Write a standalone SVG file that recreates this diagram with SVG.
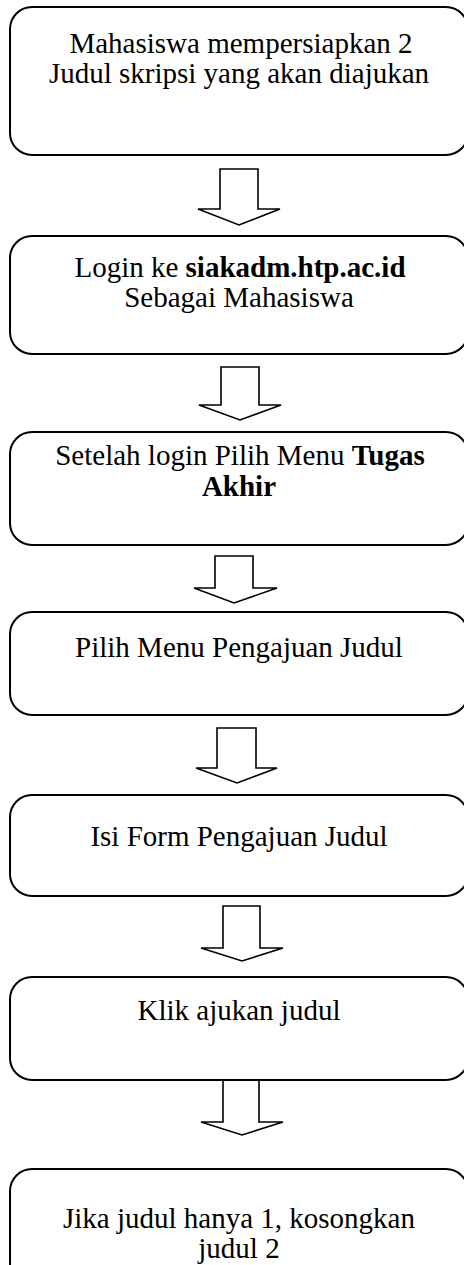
<svg xmlns="http://www.w3.org/2000/svg" width="464" height="1265" viewBox="0 0 464 1265">
<style>
.box{fill:#fff;stroke:#000;stroke-width:2}
.arr{fill:#fff;stroke:#000;stroke-width:1.6;stroke-linejoin:miter}
text{font-family:"Liberation Serif","Times New Roman",serif;font-size:29px;fill:#000;text-anchor:middle}
.b{font-weight:bold}
</style>
<rect width="464" height="1265" fill="#fff"/>
<g id="connectors">
<polygon class="arr" points="220,169 258,169 258,209 280,209 239,225 198,209 220,209"/>
<polygon class="arr" points="221,367 259,367 259,405 281,405 240,420 199,405 221,405"/>
<polygon class="arr" points="215,556 253,556 253,588 277,588 234,603 194,588 215,588"/>
<polygon class="arr" points="217,728 256,728 256,768 277,768 237,783 196,768 217,768"/>
<polygon class="arr" points="223,906 260,906 260,948 283,948 242,961 201,948 223,948"/>
<polygon class="arr" points="223,1080 259,1080 259,1122 283,1122 242,1135 201,1122 223,1122"/>
</g>
<g id="node1">
<rect class="box" x="10" y="7" width="458" height="148" rx="22"/>
<text x="241" y="53">Mahasiswa mempersiapkan 2</text>
<text x="239" y="83">Judul skripsi yang akan diajukan</text>
</g>
<g id="node2">
<rect class="box" x="10" y="236" width="458" height="118" rx="22"/>
<text x="240" y="277">Login ke <tspan class="b">siakadm.htp.ac.id</tspan></text>
<text x="239" y="307">Sebagai Mahasiswa</text>
</g>
<g id="node3">
<rect class="box" x="10" y="432" width="458" height="113" rx="22"/>
<text x="240" y="465">Setelah login Pilih Menu <tspan class="b">Tugas</tspan></text>
<text x="239" y="496" class="b">Akhir</text>
</g>
<g id="node4">
<rect class="box" x="10" y="612" width="458" height="103" rx="22"/>
<text x="239" y="657">Pilih Menu Pengajuan Judul</text>
</g>
<g id="node5">
<rect class="box" x="10" y="795" width="458" height="101" rx="22"/>
<text x="239" y="846">Isi Form Pengajuan Judul</text>
</g>
<g id="node6">
<rect class="box" x="10" y="977" width="458" height="103" rx="22"/>
<text x="239" y="1020">Klik ajukan judul</text>
</g>
<g id="node7">
<rect class="box" x="10" y="1169" width="458" height="130" rx="22"/>
<text x="239" y="1228">Jika judul hanya 1, kosongkan</text>
<text x="239" y="1258">judul 2</text>
</g>
</svg>
